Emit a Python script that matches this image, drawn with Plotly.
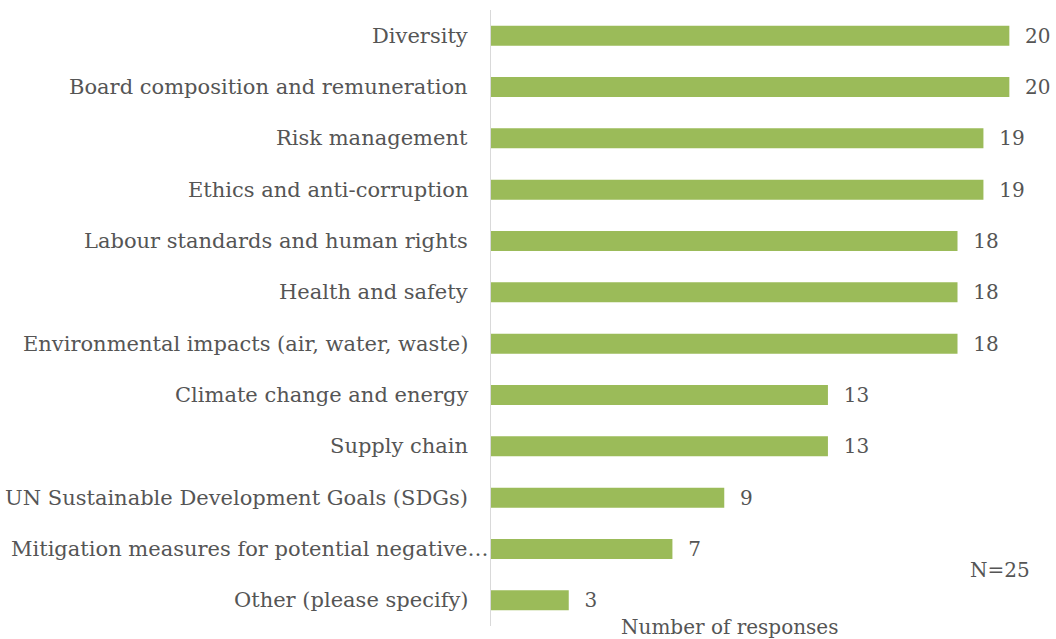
import plotly.graph_objects as go

categories = [
    "Diversity",
    "Board composition and remuneration",
    "Risk management",
    "Ethics and anti-corruption",
    "Labour standards and human rights",
    "Health and safety",
    "Environmental impacts (air, water, waste)",
    "Climate change and energy",
    "Supply chain",
    "UN Sustainable Development Goals (SDGs)",
    "Mitigation measures for potential negative…",
    "Other (please specify)",
]
values = [20, 20, 19, 19, 18, 18, 18, 13, 13, 9, 7, 3]

FONT = "DejaVu Serif"
GRAY = "#555555"

W, H = 1056, 639
l, r, t, b = 491, 0, 10, 13
pw, ph = W - l - r, H - t - b

def px_x(px):
    return (px - l) / pw

def px_y(py):
    return 1 - (py - t) / ph

fig = go.Figure(go.Bar(
    y=categories, x=values, orientation="h",
    marker=dict(color="#9BBB59", line=dict(width=0)),
    width=0.39,
    text=[f"  {v}" for v in values], textposition="outside",
    constraintext="none",
    textfont=dict(family=FONT, size=20, color=GRAY),
    cliponaxis=False,
))

anns = []
for c in categories:
    xr = 490 if c.endswith("…") else 470
    anns.append(dict(text=c, x=px_x(xr), y=c, xref="paper", yref="y",
                     xanchor="right", yanchor="middle", showarrow=False,
                     font=dict(family=FONT, size=21, color=GRAY)))
anns.append(dict(text="Number of responses", x=px_x(729), y=px_y(627),
                 xref="paper", yref="paper", xanchor="center", yanchor="middle",
                 showarrow=False, font=dict(family=FONT, size=20, color=GRAY)))
anns.append(dict(text="N=25", x=px_x(1000), y=px_y(570),
                 xref="paper", yref="paper", xanchor="center", yanchor="middle",
                 showarrow=False, font=dict(family=FONT, size=20, color=GRAY)))

fig.update_layout(
    width=W, height=H,
    margin=dict(l=l, r=r, t=t, b=b),
    paper_bgcolor="white", plot_bgcolor="white",
    showlegend=False,
    font=dict(family=FONT, size=20, color=GRAY),
    xaxis=dict(range=[0, 21.8], visible=False),
    yaxis=dict(autorange="reversed", showline=True, linecolor="#D9D9D9", linewidth=1,
               showgrid=False, zeroline=False, ticks="", showticklabels=False),
    annotations=anns,
)

fig.write_html("out.html")
